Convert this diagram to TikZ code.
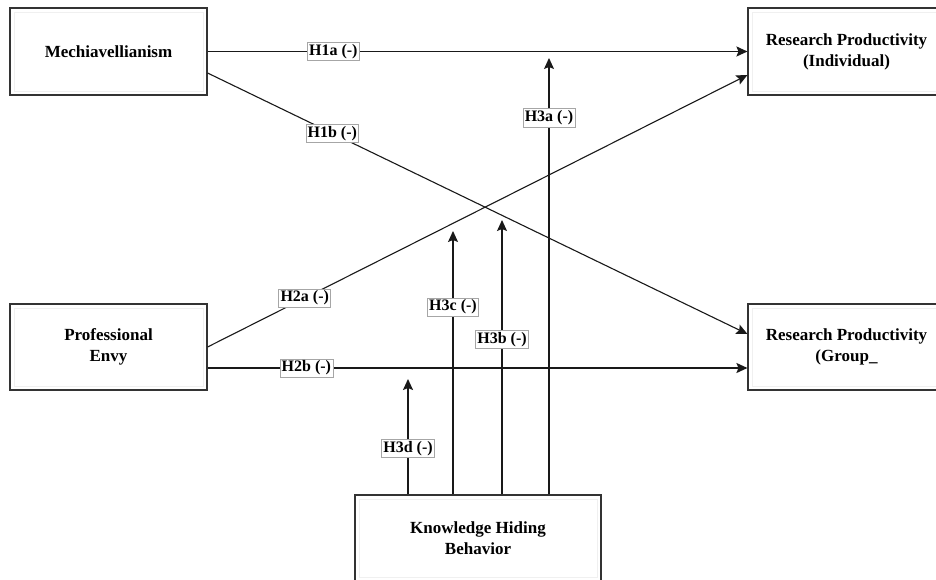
\documentclass[tikz,border=0pt]{standalone}
\usepackage{fontspec}
\setmainfont{Liberation Serif}
\usetikzlibrary{arrows.meta}
\begin{document}
\begin{tikzpicture}[x=1pt,y=-1pt,
  varbox/.style={draw=black!80, line width=1.1pt, fill=white, minimum width=197pt, minimum height=87pt,
    align=center, font=\bfseries\fontsize{17}{21}\selectfont, inner sep=0pt,
    path picture={\draw[black!6, line width=0.8pt] ([shift={(4pt,-4pt)}]path picture bounding box.north west) rectangle ([shift={(-4pt,4pt)}]path picture bounding box.south east);}},
  hyp/.style={draw=black!35, line width=0.6pt, fill=white, font=\bfseries\fontsize{16}{18}\selectfont, inner sep=1.8pt, text height=11pt, text depth=3.5pt},
  link/.style={line width=1.1pt, draw=black!90, -{Stealth[length=11pt,width=10pt,inset=2pt]}},
  thick link/.style={link, line width=1.6pt}
]
\clip (0,0) rectangle (936,580);
\fill[white] (0,0) rectangle (936,580);

\node[varbox] (mech) at (108.5,51.5) {Mechiavellianism};
\node[varbox] (rpi) at (846.5,51.5) {Research Productivity\\(Individual)};
\node[varbox, minimum height=86pt] (pe) at (108.5,347) {Professional\\Envy};
\node[varbox, minimum height=86pt] (rpg) at (846.5,347) {Research Productivity\\(Group\_};
\node[varbox, minimum width=246pt, minimum height=86pt] (khb) at (478,538) {Knowledge Hiding\\Behavior};

\coordinate (t3a) at (549,58);
\coordinate (t3b) at (502,220);
\coordinate (t3c) at (453,231);
\coordinate (t3d) at (408,379);

\draw[thick link] (mech.east) -- node[hyp, pos=0.233] {H1a (-)} (rpi.west);
\draw[link] ([yshift=-21.5pt]mech.east) -- node[hyp, pos=0.231] {H1b (-)} ([yshift=13pt]rpg.west);
\draw[link] (pe.east) -- node[hyp, pos=0.18] {H2a (-)} ([yshift=-23.5pt]rpi.west);
\draw[thick link] ([yshift=-21pt]pe.east) -- node[hyp, pos=0.183] {H2b (-)} ([yshift=-21pt]rpg.west);

\draw[link] (t3a |- khb.north) -- node[hyp, pos=0.863] {H3a (-)} (t3a);
\draw[link] (t3b |- khb.north) -- node[hyp, pos=0.564] {H3b (-)} (t3b);
\draw[link] (t3c |- khb.north) -- node[hyp, pos=0.712] {H3c (-)} (t3c);
\draw[thick link] (t3d |- khb.north) -- node[hyp, pos=0.397] {H3d (-)} (t3d);
\end{tikzpicture}
\end{document}
